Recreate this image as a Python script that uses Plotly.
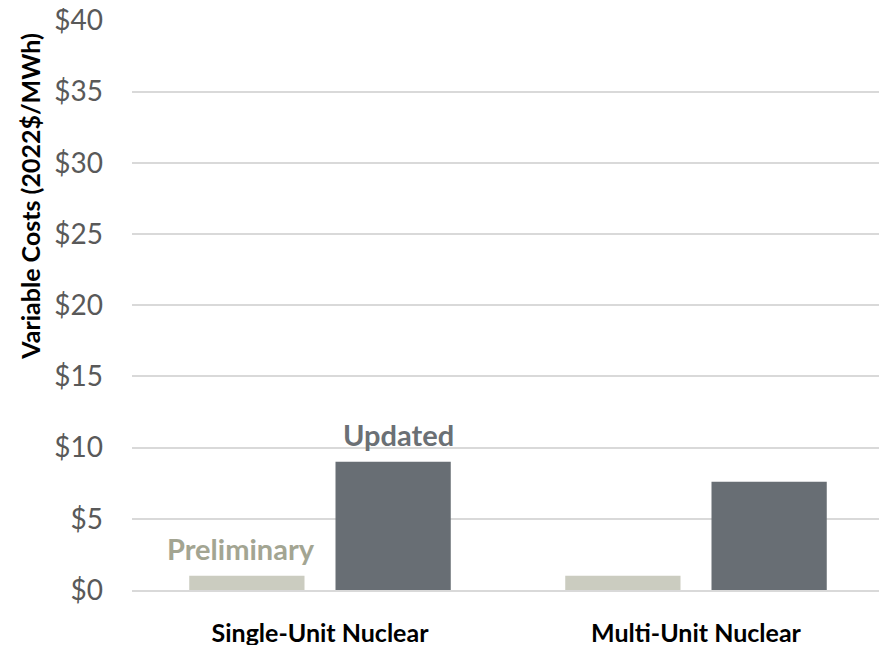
import plotly.graph_objects as go

categories = ["Single-Unit Nuclear", "Multi-Unit Nuclear"]
preliminary = [1.0, 1.0]
updated = [9.0, 7.6]
y_ticks = [0, 5, 10, 15, 20, 25, 30, 35, 40]
y_tick_labels = ["$" + str(v) for v in y_ticks]

FONT = "Lato"
c_pre = "#cbccc0"
c_upd = "#686e74"

fig = go.Figure()
fig.add_trace(go.Bar(x=categories, y=preliminary, name="Preliminary",
                     marker=dict(color=c_pre, line=dict(width=0))))
fig.add_trace(go.Bar(x=categories, y=updated, name="Updated",
                     marker=dict(color=c_upd, line=dict(width=0))))

fig.add_annotation(x=categories[0], y=preliminary[0], xref="x", yref="y",
                   text="<b>Preliminary</b>", showarrow=False, xshift=-79,
                   yanchor="bottom", yshift=8,
                   font=dict(family=FONT, size=29, color="#a3a592"))
fig.add_annotation(x=categories[0], y=updated[0], xref="x", yref="y",
                   text="<b>Updated</b>", showarrow=False, xshift=78,
                   yanchor="bottom", yshift=8,
                   font=dict(family=FONT, size=29, color="#6b7075"))

fig.add_annotation(x=-0.1356, y=0.69, xref="paper", yref="paper",
                   text="<b>Variable Costs (2022$/MWh)</b>", textangle=-90,
                   showarrow=False, xanchor="center", yanchor="middle",
                   font=dict(family=FONT, size=25, color="#000000"))

fig.update_layout(
    width=879, height=637,
    margin=dict(l=124, r=3, t=12, b=54.5),
    paper_bgcolor="white", plot_bgcolor="white",
    showlegend=False,
    barmode="group", bargap=0.222, bargroupgap=0.212,
    font=dict(family=FONT),
)
fig.update_yaxes(range=[0, 40.02], tickvals=y_ticks, ticktext=y_tick_labels,
                 showgrid=True, gridcolor="#d9d9d9", gridwidth=2,
                 zeroline=False, showline=False, ticks="", automargin=False,
                 ticklabelstandoff=28, ticklabeloverflow="allow",
                 tickfont=dict(family=FONT, size=28, color="#595959"))
fig.update_xaxes(showline=True, linecolor="#d9d9d9", linewidth=2, ticks="",
                 automargin=False, ticklabelstandoff=20, ticklabeloverflow="allow",
                 tickvals=categories, ticktext=["<b>" + c + "</b>" for c in categories],
                 tickfont=dict(family=FONT, size=25, color="#000000"))

fig.write_html("out.html")
